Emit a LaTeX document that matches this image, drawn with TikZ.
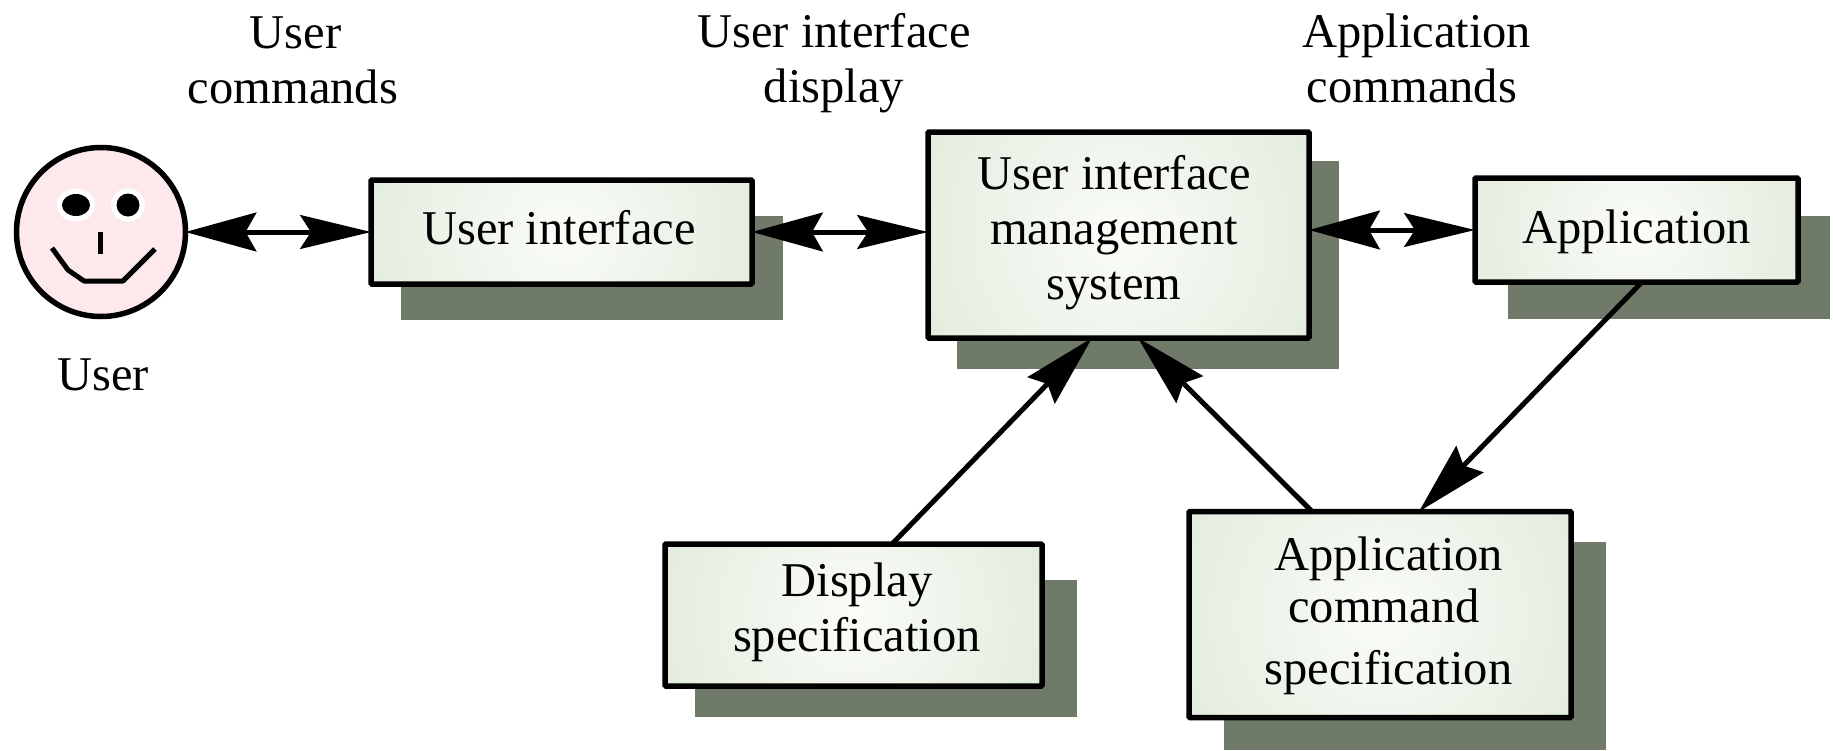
\documentclass[tikz,border=0pt]{standalone}
\usepackage{fontspec}
\setmainfont{Liberation Serif}
\usetikzlibrary{arrows.meta,calc}
\definecolor{shadowcol}{HTML}{6F7A68}
\definecolor{pinkface}{HTML}{FDE9EB}
\definecolor{glowin}{HTML}{FAFCF8}
\definecolor{glowmid}{HTML}{E2ECDD}
\definecolor{glowout}{HTML}{C6D8BC}
\pgfdeclareradialshading{glowcirc}{\pgfpoint{0bp}{0bp}}{color(0bp)=(glowin); color(25bp)=(glowmid); color(50bp)=(glowout)}
% one line of text, moved by half of #1 sideways and #2 up from the centre of its box
\newcommand\nudge[3]{\raisebox{#2}[\height][\depth]{\makebox[0pt][c]{\hspace*{#1}#3}}}
\tikzset{
  lbl/.style={font=\fontsize{48.5}{55}\selectfont, align=center, inner sep=0pt, text=black},
  boxn/.style={draw=black, line width=5.5pt, rounded corners=1pt, fill=glowout, font=\fontsize{48.5}{55}\selectfont, align=center, inner sep=0pt, outer sep=0pt, anchor=center, text=black},
  glow/.style={path picture={\shade[shading=glowcirc] (path picture bounding box.center) circle (#1pt);}},
  bi/.style={line width=5pt, {Stealth[length=71pt,width=39pt,inset=11pt,line width=3pt]}-{Stealth[length=71pt,width=34pt,inset=11pt,line width=3pt]}},
  uni/.style={line width=5pt, -{Stealth[length=73pt,width=38pt,inset=9pt,line width=3pt]}},
  facel/.style={line width=5pt, line cap=butt, line join=round}
}
\begin{document}
\begin{tikzpicture}[x=1pt,y=-1pt]
\path[fill=white,use as bounding box] (0,0) rectangle (1833,750);
% shadows
\fill[shadowcol] (401,216) rectangle (783,320);
\fill[shadowcol] (957,161) rectangle (1339,369);
\fill[shadowcol] (1508,216) rectangle (1830,319);
\fill[shadowcol] (695,580) rectangle (1077,717);
\fill[shadowcol] (1224,542) rectangle (1606,750);
% face
\node[draw=black, line width=5.5pt, circle, fill=pinkface, minimum size=169pt, inner sep=0pt, outer sep=0pt] (face) at (101,232) {};
\fill[white] (76,205) ellipse [x radius=19, y radius=16.5];
\fill[white] (128,205) ellipse [x radius=17, y radius=16.5];
\fill[black] (76,205) ellipse [x radius=14, y radius=11];
\fill[black] (128,205) ellipse [x radius=11.5, y radius=11.5];
\draw[facel] (100,232) -- (100,254);
\draw[facel] (52,248) -- (68,270) -- (84,281) -- (123,281) -- (155,249);
% boxes
\node[boxn, glow=208, minimum width=381pt, minimum height=104pt] (ui) at (561.5,232) {\nudge{-5pt}{4.7pt}{User interface}};
\node[boxn, glow=222, minimum width=381pt, minimum height=206pt] (uims) at (1118.5,235) {\nudge{-9pt}{2.3pt}{User interface}\\\nudge{-9pt}{2.3pt}{management}\\\nudge{-9pt}{2.3pt}{system}};
\node[boxn, glow=180, minimum width=323pt, minimum height=104pt] (app) at (1636.5,230) {\nudge{0pt}{-2.3pt}{Application}};
\node[boxn, glow=206, minimum width=377pt, minimum height=142pt] (dsp) at (853.5,615) {\nudge{7pt}{2.3pt}{Display}\\\nudge{7pt}{2.3pt}{specification}};
\node[boxn, glow=222, minimum width=382pt, minimum height=206pt] (acs) at (1380,614.5) {\nudge{17pt}{1pt}{Application}\\\nudge{8pt}{3.5pt}{command}\\\nudge{17pt}{-3.5pt}{specification}};
% labels
\node[lbl] (lcmd) at (293,60) {\nudge{5pt}{0pt}{User}\\commands};
\node[lbl] (ldisp) at (834,63.5) {User interface\\display};
\node[lbl] (lapp) at (1412,58.5) {\nudge{9pt}{0pt}{Application}\\commands};
\node[lbl] (luser) at (103,375) {User};
% connectors
\draw[bi] (face.east |- ui.west) -- (ui.west);
\draw[bi] (ui.east) -- (ui.east -| uims.west);
\draw[bi] (app.west -| uims.east) -- (app.west);
\draw[uni] ([xshift=38.5pt]dsp.north) -- ([xshift=-26.5pt]uims.south);
\draw[uni] ([xshift=-68pt]acs.north) -- ([xshift=19.5pt]uims.south);
\draw[uni] ([xshift=5.5pt]app.south) -- ([xshift=39pt]acs.north);
\end{tikzpicture}
\end{document}
